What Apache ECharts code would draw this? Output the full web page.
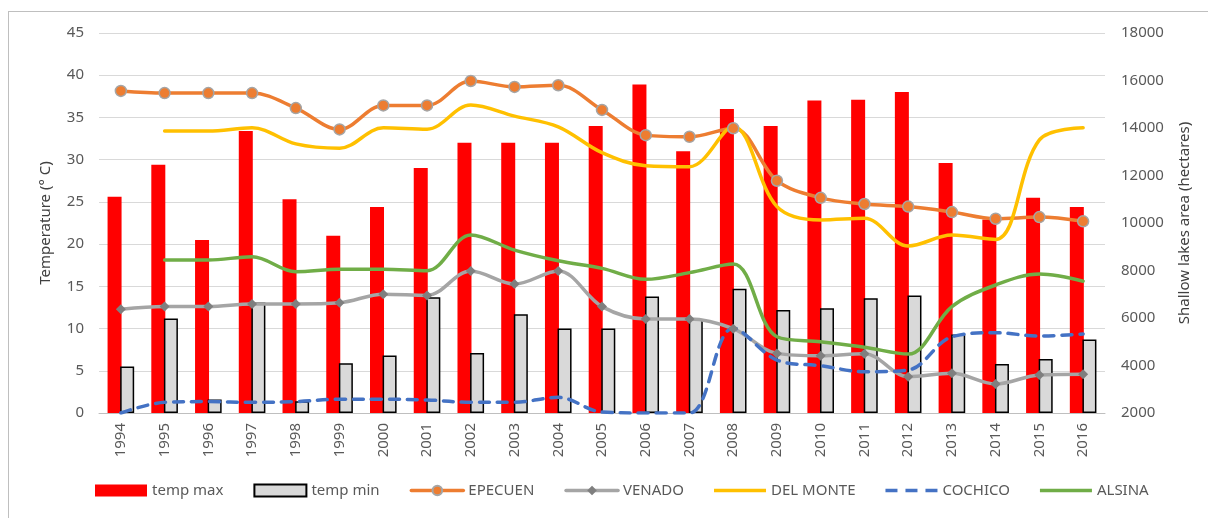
<!DOCTYPE html>
<html>
<head>
<meta charset="utf-8">
<script src="https://cdn.jsdelivr.net/npm/echarts@6/dist/echarts.min.js"></script>
<style>
    html, body { margin: 0; padding: 0; background: #fff; }
    #frame { position: absolute; left: 8px; top: 11px; width: 1220px; height: 530px; border: 1px solid #bfbfbf; }
    #chart { position: absolute; left: 0; top: 0; width: 1208px; height: 518px; }
</style>
</head>
<body>
<div id="frame"></div>
<div id="chart"></div>
<script>
// years on the x axis
var years = ['1994', '1995', '1996', '1997', '1998', '1999', '2000', '2001', '2002', '2003', '2004',
    '2005', '2006', '2007', '2008', '2009', '2010', '2011', '2012', '2013', '2014', '2015', '2016'];

// temperatures (left axis, °C)
var tempMax = [25.6, 29.4, 20.5, 33.4, 25.3, 21.0, 24.4, 29.0, 32.0, 32.0, 32.0,
    34.0, 38.9, 31.0, 36.0, 34.0, 37.0, 37.1, 38.0, 29.6, 22.9, 25.5, 24.4];
var tempMin = [5.5, 11.2, 1.6, 13.1, 1.4, 5.9, 6.8, 13.7, 7.1, 11.7, 10.0,
    10.0, 13.8, 11.1, 14.7, 12.2, 12.4, 13.6, 13.9, 9.3, 5.8, 6.4, 8.7];

// lake areas (right axis, hectares)
var epecuen = [15560, 15470, 15470, 15470, 14840, 13940, 14950, 14950, 15980, 15730, 15800,
    14760, 13700, 13630, 13990, 11780, 11060, 10800, 10690, 10460, 10180, 10250, 10070];
var venado = [6370, 6480, 6480, 6590, 6590, 6640, 7000, 6950, 7980, 7430, 7980,
    6480, 5960, 5960, 5550, 4510, 4410, 4500, 3530, 3670, 3220, 3600, 3630];
var delMonte = [null, 13870, 13870, 14010, 13330, 13150, 14010, 13950, 14970, 14500, 14050,
    12960, 12410, 12370, 14050, 10690, 10130, 10200, 9030, 9490, 9310, 13500, 14010];
var cochico = [2000, 2450, 2480, 2450, 2480, 2580, 2580, 2550, 2450, 2450, 2660,
    2040, 2000, 2000, 5570, 4230, 3990, 3740, 3810, 5210, 5380, 5240, 5330];
var alsina = [null, 8440, 8440, 8580, 7950, 8050, 8050, 7990, 9500, 8860, 8410,
    8090, 7630, 7910, 8270, 5210, 5000, 4770, 4480, 6480, 7390, 7850, 7550];

var font = 'Noto Sans';
var textColor = '#595959';

// legend icons: plain stroke and dashed stroke (first two moves fix the 52x12 box)
var plainIcon = 'path://M0,0 M52,12 M0,4.2 L52,4.2 L52,7.8 L0,7.8 Z';
var dashIcon = 'path://M0,0 M52,12 M0,4.2 L12,4.2 L12,7.8 L0,7.8 Z M20,4.2 L32,4.2 L32,7.8 L20,7.8 Z M40,4.2 L52,4.2 L52,7.8 L40,7.8 Z';

function lineSeries(name, data, color, extra) {
    var s = {
        name: name,
        type: 'line',
        yAxisIndex: 1,
        smooth: 0.35,
        data: data,
        symbol: 'none',
        lineStyle: { color: color, width: 3.5, cap: 'round' },
        itemStyle: { color: color },
        z: 3
    };
    for (var k in extra) s[k] = extra[k];
    return s;
}

var chart = echarts.init(document.getElementById('chart'));
chart.setOption({
    animation: false,
    textStyle: { fontFamily: font },
    grid: { left: 99, right: 103, top: 33, bottom: 105 },
    legend: {
        bottom: 15,
        left: 90,
        itemWidth: 52,
        itemHeight: 12,
        itemGap: 30,
        lineStyle: { width: 3.5 },
        textStyle: { color: textColor, fontSize: 15, fontFamily: font },
        data: [
            { name: 'temp max', icon: 'rect' },
            { name: 'temp min', icon: 'rect' },
            'EPECUEN', 'VENADO',
            { name: 'DEL MONTE', icon: plainIcon },
            { name: 'COCHICO', icon: dashIcon },
            { name: 'ALSINA', icon: plainIcon }
        ]
    },
    xAxis: {
        type: 'category',
        data: years,
        axisLine: { lineStyle: { color: '#bfbfbf' } },
        axisTick: { show: false },
        axisLabel: { rotate: 90, color: textColor, fontSize: 15, margin: 10 }
    },
    yAxis: [
        {
            type: 'value',
            min: 0, max: 45, interval: 5,
            name: 'Temperature (° C)',
            nameLocation: 'middle',
            nameGap: 46,
            nameTextStyle: { color: '#404040', fontSize: 15 },
            axisLabel: { color: textColor, fontSize: 15, margin: 15 },
            splitLine: { lineStyle: { color: '#d9d9d9', width: 1 } }
        },
        {
            type: 'value',
            min: 2000, max: 18000, interval: 2000,
            name: 'Shallow lakes area (hectares)',
            nameLocation: 'middle',
            nameGap: 72,
            nameTextStyle: { color: '#404040', fontSize: 15 },
            axisLabel: {
                color: textColor, fontSize: 15, margin: 16,
                formatter: function (v) { return String(v); }
            },
            splitLine: { show: false }
        }
    ],
    series: [
        {
            name: 'temp max',
            type: 'bar',
            data: tempMax,
            barWidth: 14,
            barGap: '-10%',
            itemStyle: { color: '#ff0000' },
            z: 1
        },
        {
            name: 'temp min',
            type: 'bar',
            data: tempMin,
            barWidth: 14,
            itemStyle: { color: '#d9d9d9', borderColor: '#000', borderWidth: 1.5 },
            z: 2
        },
        lineSeries('EPECUEN', epecuen, '#ed7d31', {
            symbol: 'circle',
            symbolSize: 11,
            itemStyle: { color: '#ed7d31', borderColor: '#a5a5a5', borderWidth: 1.5 }
        }),
        lineSeries('VENADO', venado, '#a5a5a5', {
            symbol: 'diamond',
            symbolSize: 10,
            itemStyle: { color: '#7f7f7f' }
        }),
        lineSeries('DEL MONTE', delMonte, '#ffc000', {}),
        lineSeries('COCHICO', cochico, '#4472c4', {
            lineStyle: { color: '#4472c4', width: 3.5, type: [10, 8], cap: 'round' }
        }),
        lineSeries('ALSINA', alsina, '#70ad47', {})
    ]
});
</script>
</body>
</html>
